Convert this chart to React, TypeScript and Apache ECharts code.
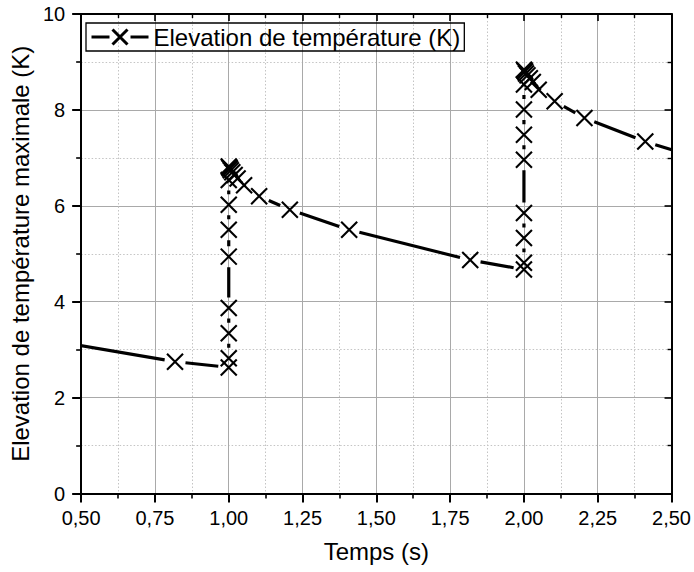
import React, { useEffect, useRef } from "react";
import * as echarts from "echarts";

const seriesName = "Elevation de température (K)";
const xTitle = "Temps (s)";
const yTitle = "Elevation de température maximale (K)";

// time (s)
const timeS = [
  0.408, 0.818,
  1.0, 1.0, 1.0, 1.0, 1.0, 1.0, 1.0, 1.0, 1.0,
  1.002, 1.004, 1.007, 1.012, 1.02, 1.03,
  1.052, 1.103, 1.207, 1.408, 1.818,
  2.0, 2.0, 2.0, 2.0, 2.0, 2.0, 2.0, 2.0, 2.0,
  2.002, 2.004, 2.007, 2.012, 2.02, 2.03,
  2.05, 2.104, 2.205, 2.411, 2.82,
];
// temperature rise (K)
const tempK = [
  3.18, 2.75,
  2.63, 2.82, 3.34, 3.87, 4.94, 5.5, 6.02, 6.54, 6.82,
  6.8, 6.78, 6.74, 6.7, 6.64, 6.57,
  6.43, 6.2, 5.92, 5.5, 4.87,
  4.67, 4.81, 5.33, 5.85, 6.96, 7.48, 8.01, 8.53, 8.84,
  8.82, 8.8, 8.76, 8.72, 8.66, 8.58,
  8.42, 8.18, 7.83, 7.34, 6.56,
];

const xMin = 0.5;
const xMax = 2.5;
const xStep = 0.25;
const yMin = 0;
const yMax = 10;
const yStep = 2;

const FONT = "'Liberation Sans', Arial, Helvetica, sans-serif";

export default function App() {
  const ref = useRef<HTMLDivElement>(null);

  useEffect(() => {
    if (!ref.current) return;
    const chart = echarts.init(ref.current, undefined, { renderer: "svg" });

    const points = timeS.map((t, i) => [t, tempK[i]]);
    const segments = [];
    for (let i = 0; i < points.length - 1; i++) {
      segments.push([points[i][0], points[i][1], points[i + 1][0], points[i + 1][1]]);
    }
    const GAP = 10.5;

    const axisLineStyle = { color: "#000", width: 2 };
    const fmtX = (v: number) => v.toFixed(2).replace(".", ",");
    const majorGrid = { show: true, lineStyle: { color: "#a9a9a9", width: 1 } };
    const minorGrid = { show: true, lineStyle: { color: "#c4c4c4", width: 1, type: [1.5, 2] } };

    chart.setOption({
      animation: false,
      backgroundColor: "#fff",
      textStyle: { fontFamily: FONT },
      grid: { left: 80, right: 20, top: 14, bottom: 78.5, containLabel: false },
      legend: {
        left: 86,
        top: 23,
        padding: [2, 4, 2, 3],
        borderColor: "#000",
        borderWidth: 1.3,
        itemWidth: 57,
        itemHeight: 15,
        selectedMode: false,
        textStyle: { fontSize: 24, color: "#000", fontFamily: FONT },
        data: [
          {
            name: seriesName,
            icon: "path://M0,7.5L18,7.5M21,0L36,15M36,0L21,15M39,7.5L57,7.5",
            itemStyle: { color: "none", borderColor: "#000", borderWidth: 3, opacity: 1 },
          },
        ],
      },
      xAxis: [
        {
          type: "value",
          position: "bottom",
          min: xMin,
          max: xMax,
          interval: xStep,
          name: xTitle,
          nameLocation: "middle",
          nameGap: 46,
          nameTextStyle: { fontSize: 24, color: "#000", fontFamily: FONT },
          axisLine: { onZero: false, lineStyle: axisLineStyle },
          axisTick: { show: true, inside: false, length: 9, lineStyle: { color: "#000", width: 2 } },
          minorTick: { show: true, splitNumber: 2, length: 5, lineStyle: { color: "#000", width: 1.6 } },
          axisLabel: { fontSize: 20, color: "#000", margin: 14, formatter: fmtX, fontFamily: FONT },
          splitLine: majorGrid,
          minorSplitLine: minorGrid,
        },
        {
          type: "value",
          position: "top",
          min: xMin,
          max: xMax,
          interval: xStep,
          axisLine: { onZero: false, lineStyle: axisLineStyle },
          axisTick: { show: true, inside: true, length: 7, lineStyle: { color: "#000", width: 1.6 } },
          minorTick: { show: true, splitNumber: 2, length: 4, lineStyle: { color: "#000", width: 1.4 } },
          axisLabel: { show: false },
          splitLine: { show: false },
        },
      ],
      yAxis: [
        {
          type: "value",
          position: "left",
          min: yMin,
          max: yMax,
          interval: yStep,
          name: yTitle,
          nameLocation: "middle",
          nameRotate: 90,
          nameGap: 44,
          nameTextStyle: { fontSize: 24, color: "#000", fontFamily: FONT },
          axisLine: { onZero: false, lineStyle: axisLineStyle },
          axisTick: { show: true, inside: false, length: 9, lineStyle: { color: "#000", width: 2 } },
          minorTick: { show: true, splitNumber: 2, length: 5, lineStyle: { color: "#000", width: 1.6 } },
          axisLabel: { fontSize: 20, color: "#000", margin: 16, fontFamily: FONT },
          splitLine: majorGrid,
          minorSplitLine: minorGrid,
        },
        {
          type: "value",
          position: "right",
          min: yMin,
          max: yMax,
          interval: yStep,
          axisLine: { onZero: false, lineStyle: axisLineStyle },
          axisTick: { show: true, inside: true, length: 7, lineStyle: { color: "#000", width: 1.6 } },
          minorTick: { show: true, splitNumber: 2, length: 4, lineStyle: { color: "#000", width: 1.4 } },
          axisLabel: { show: false },
          splitLine: { show: false },
        },
      ],
      series: [
        {
          name: seriesName + " line",
          type: "custom",
          xAxisIndex: 0,
          yAxisIndex: 0,
          clip: true,
          silent: true,
          encode: { x: [0, 2], y: [1, 3] },
          data: segments,
          renderItem: (params: any, api: any) => {
            const p1 = api.coord([api.value(0), api.value(1)]);
            const p2 = api.coord([api.value(2), api.value(3)]);
            const dx = p2[0] - p1[0];
            const dy = p2[1] - p1[1];
            const d = Math.sqrt(dx * dx + dy * dy);
            if (d <= 2 * GAP + 0.5) return null;
            const ux = dx / d;
            const uy = dy / d;
            return {
              type: "line",
              shape: {
                x1: p1[0] + ux * GAP,
                y1: p1[1] + uy * GAP,
                x2: p2[0] - ux * GAP,
                y2: p2[1] - uy * GAP,
              },
              style: { stroke: "#000", lineWidth: 3.2, fill: "none" },
            };
          },
          z: 3,
        },
        {
          name: seriesName,
          type: "scatter",
          xAxisIndex: 0,
          yAxisIndex: 0,
          clip: true,
          symbol: "path://M0,0L10,10M10,0L0,10",
          symbolSize: 16,
          itemStyle: { color: "none", borderColor: "#000", borderWidth: 2.1, opacity: 1 },
          data: points,
          z: 4,
        },
      ],
    });

    return () => chart.dispose();
  }, []);

  return (
    <div
      ref={ref}
      style={{ position: "absolute", left: 0, top: 0, width: 694, height: 572, background: "#fff" }}
    />
  );
}
